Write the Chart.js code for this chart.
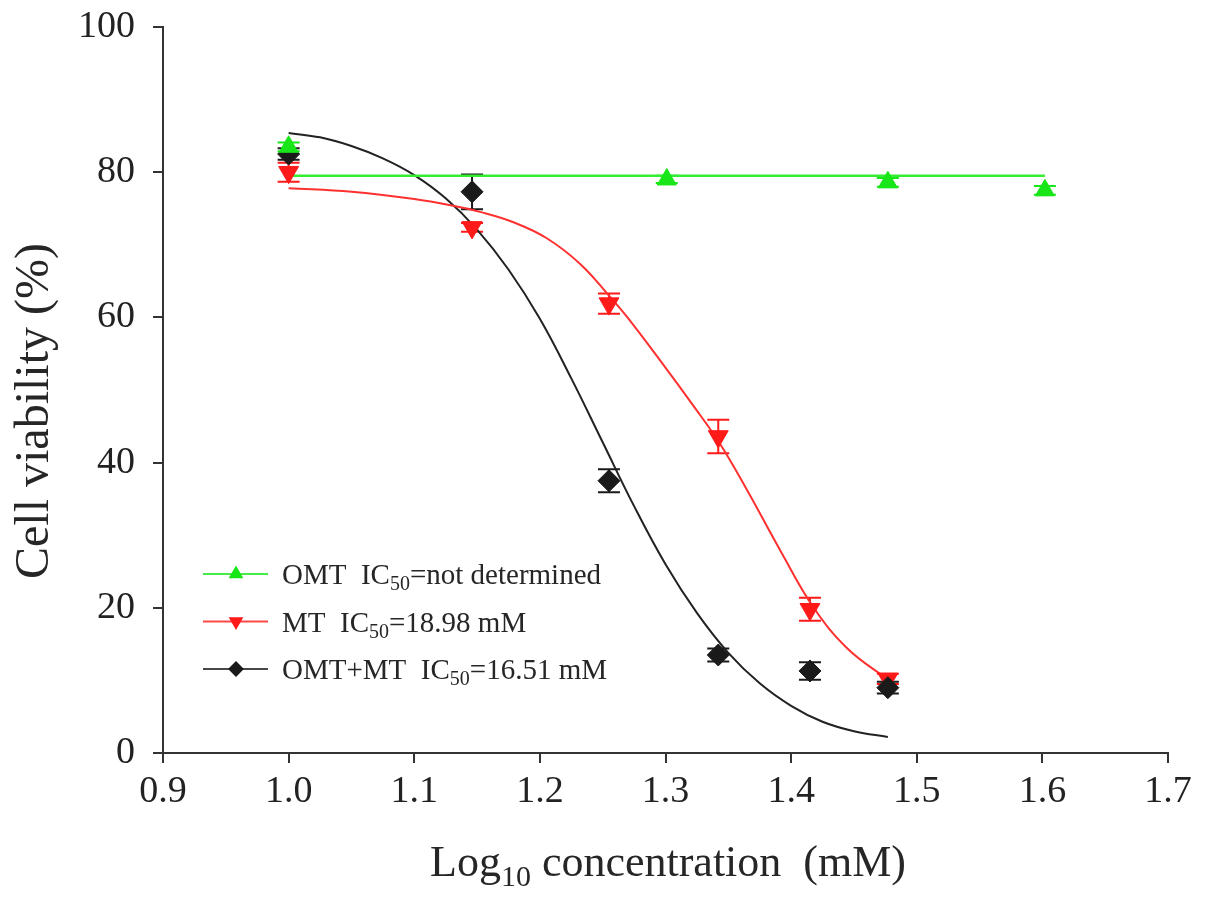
<!DOCTYPE html>
<html>
<head>
<meta charset="utf-8">
<script src="https://cdn.jsdelivr.net/npm/chart.js@4.4.1/dist/chart.umd.min.js"></script>
<style>
  body { margin: 0; background: #fff; }
  canvas { display: block; }
</style>
</head>
<body>
<canvas id="ic50Chart" width="1205" height="906"></canvas>
<script>
const omtX = [1.0, 1.301, 1.477, 1.602];
const omtY = [83.5, 79.0, 78.6, 77.5];
const omtErr = [0.6, 0.5, 0.6, 0.6];

const mtX = [1.0, 1.146, 1.255, 1.342, 1.415, 1.477];
const mtY = [80.0, 72.4, 61.9, 43.6, 19.8, 10.2];
const mtErr = [1.3, 0.6, 1.4, 2.3, 1.6, 0.7];

const comboX = [1.0, 1.146, 1.255, 1.342, 1.415, 1.477];
const comboY = [82.5, 77.3, 37.5, 13.5, 11.3, 9.0];
const comboErr = [0.8, 2.4, 1.6, 0.9, 1.2, 0.8];

// fitted curves
const omtFitX = [1.0, 1.602];
const omtFitY = [79.5, 79.5];

const mtFitX = [1.0, 1.05, 1.1, 1.13, 1.153, 1.179, 1.2055, 1.2325, 1.255, 1.2697, 1.296, 1.3227, 1.3426, 1.365, 1.3917, 1.418, 1.4448, 1.477];
const mtFitY = [77.8, 77.3, 76.3, 75.4, 74.5, 73.1, 70.9, 67.3, 63.0, 60.0, 54.0, 47.7, 42.8, 36.2, 27.8, 20.0, 14.4, 10.1];

const comboFitX = [1.0, 1.025, 1.05, 1.075, 1.1, 1.125, 1.15, 1.175, 1.2, 1.225, 1.25, 1.275, 1.3, 1.325, 1.35, 1.375, 1.4, 1.425, 1.45, 1.477];
const comboFitY = [85.4, 84.8, 83.6, 81.9, 79.6, 76.4, 72.1, 66.6, 59.8, 51.6, 42.8, 34.0, 26.0, 19.3, 13.8, 9.6, 6.5, 4.3, 3.0, 2.2];

const xTickValues = [0.9, 1.0, 1.1, 1.2, 1.3, 1.4, 1.5, 1.6, 1.7];
const xTickLabels = ['0.9', '1.0', '1.1', '1.2', '1.3', '1.4', '1.5', '1.6', '1.7'];
const yTickValues = [0, 20, 40, 60, 80, 100];

const legendLabels = [
  [['OMT  IC', false], ['50', true], ['=not determined', false]],
  [['MT  IC', false], ['50', true], ['=18.98 mM', false]],
  [['OMT+MT  IC', false], ['50', true], ['=16.51 mM', false]]
];

const GREEN = '#19e619';
const RED = '#ff1a1a';
const BLACK = '#1a1a1a';
const SERIF = '"Liberation Serif", "Times New Roman", serif';

const toPts = (xs, ys) => xs.map((x, i) => ({ x: x, y: ys[i] }));

// text with subscripts, parts = [[text, isSub], ...]
function drawRich(ctx, parts, x, y, size, align) {
  const subSize = Math.round(size * 0.68);
  let total = 0;
  parts.forEach(p => {
    ctx.font = (p[1] ? subSize : size) + 'px ' + SERIF;
    total += ctx.measureText(p[0]).width;
  });
  let cx = align === 'center' ? x - total / 2 : x;
  ctx.textAlign = 'left';
  ctx.textBaseline = 'alphabetic';
  parts.forEach(p => {
    ctx.font = (p[1] ? subSize : size) + 'px ' + SERIF;
    ctx.fillText(p[0], cx, p[1] ? y + size * 0.22 : y);
    cx += ctx.measureText(p[0]).width;
  });
}

const errorSets = [
  { xs: mtX, ys: mtY, err: mtErr, color: RED },
  { xs: comboX, ys: comboY, err: comboErr, color: BLACK },
  { xs: omtX, ys: omtY, err: omtErr, color: GREEN }
];

const errorBars = {
  id: 'errorBars',
  beforeDatasetsDraw(chart) {
    const { ctx, scales: { x, y } } = chart;
    ctx.save();
    ctx.lineWidth = 2;
    errorSets.forEach(s => {
      ctx.strokeStyle = s.color;
      s.xs.forEach((xv, i) => {
        const px = x.getPixelForValue(xv);
        const top = y.getPixelForValue(s.ys[i] + s.err[i]);
        const bot = y.getPixelForValue(s.ys[i] - s.err[i]);
        ctx.beginPath();
        ctx.moveTo(px, top); ctx.lineTo(px, bot);
        ctx.moveTo(px - 11, top); ctx.lineTo(px + 11, top);
        ctx.moveTo(px - 11, bot); ctx.lineTo(px + 11, bot);
        ctx.stroke();
      });
    });
    ctx.restore();
  }
};

const legendStyles = [
  { color: GREEN, pointStyle: 'triangle', rotation: 0 },
  { color: RED, pointStyle: 'triangle', rotation: 180 },
  { color: BLACK, pointStyle: 'rectRot', rotation: 0 }
];

const titlesAndLegend = {
  id: 'titlesAndLegend',
  afterDraw(chart) {
    const ctx = chart.ctx;
    ctx.save();
    ctx.fillStyle = '#262626';

    // x title
    drawRich(ctx, [['Log', false], ['10', true], [' concentration  (mM)', false]], 668, 876, 44, 'center');

    // y title
    ctx.save();
    ctx.translate(48, 411);
    ctx.rotate(-Math.PI / 2);
    drawRich(ctx, [['Cell viability (%)', false]], 0, 0, 48, 'center');
    ctx.restore();

    // legend
    legendLabels.forEach((parts, i) => {
      const rowY = 574 + i * 47.5;
      const st = legendStyles[i];
      ctx.strokeStyle = st.color;
      ctx.globalAlpha = 0.8;
      ctx.lineWidth = 2;
      ctx.beginPath();
      ctx.moveTo(203, rowY); ctx.lineTo(268, rowY);
      ctx.stroke();
      ctx.globalAlpha = 1;
      ctx.fillStyle = st.color;
      Chart.helpers.drawPoint(ctx, { pointStyle: st.pointStyle, rotation: st.rotation, radius: 6.5, borderWidth: 1 }, 236, rowY);
      ctx.fill();
      ctx.fillStyle = '#262626';
      drawRich(ctx, parts, 282, rowY + 10, 29, 'left');
    });
    ctx.restore();
  }
};

const curve = (xs, ys, color, width) => ({
  data: toPts(xs, ys),
  showLine: true,
  borderColor: color,
  borderWidth: width,
  pointRadius: 0,
  tension: 0.4,
  order: 10
});

const markers = (xs, ys, color, style, rot, r, order) => ({
  data: toPts(xs, ys),
  showLine: false,
  pointStyle: style,
  rotation: rot,
  pointRadius: r,
  backgroundColor: color,
  borderColor: color,
  borderWidth: 1,
  order: order
});

new Chart(document.getElementById('ic50Chart').getContext('2d'), {
  type: 'scatter',
  data: {
    datasets: [
      curve(omtFitX, omtFitY, '#33ee33', 2.5),
      curve(mtFitX, mtFitY, '#ff3030', 2),
      curve(comboFitX, comboFitY, '#222', 2),
      markers(mtX, mtY, RED, 'triangle', 180, 11.5, 3),
      markers(comboX, comboY, BLACK, 'rectRot', 0, 11, 2),
      markers(omtX, omtY, GREEN, 'triangle', 0, 11, 1)
    ]
  },
  options: {
    responsive: false,
    devicePixelRatio: 1,
    animation: false,
    layout: { padding: { top: 27, right: 37, left: 0, bottom: 0 } },
    plugins: { legend: { display: false }, tooltip: { enabled: false } },
    scales: {
      x: {
        type: 'linear',
        min: 0.9,
        max: 1.7,
        afterBuildTicks: s => { s.ticks = xTickValues.map(v => ({ value: v })); },
        afterFit: s => { s.height = 153; s.paddingLeft = 0; s.paddingRight = 0; },
        grid: { drawOnChartArea: false, drawTicks: true, tickLength: 10, color: '#333', lineWidth: 2 },
        border: { display: true, color: '#333', width: 2 },
        ticks: {
          color: '#222',
          padding: 6,
          font: { family: SERIF, size: 38 },
          callback: v => xTickLabels[xTickValues.findIndex(t => Math.abs(t - v) < 1e-6)]
        }
      },
      y: {
        type: 'linear',
        min: 0,
        max: 100,
        afterBuildTicks: s => { s.ticks = yTickValues.map(v => ({ value: v })); },
        afterFit: s => { s.width = 163; s.paddingTop = 0; s.paddingBottom = 0; },
        grid: { drawOnChartArea: false, drawTicks: true, tickLength: 10, color: '#333', lineWidth: 2 },
        border: { display: true, color: '#333', width: 2 },
        ticks: {
          color: '#222',
          padding: 18,
          font: { family: SERIF, size: 38 },
          callback: v => String(v)
        }
      }
    }
  },
  plugins: [errorBars, titlesAndLegend]
});
</script>
</body>
</html>
